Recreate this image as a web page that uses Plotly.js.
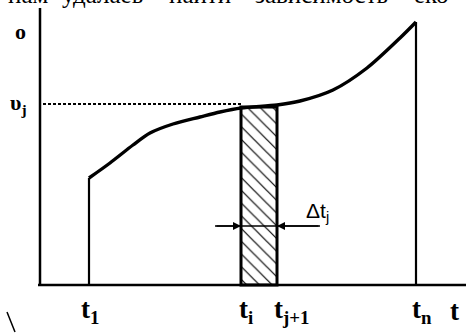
<!DOCTYPE html>
<html>
<head>
<meta charset="utf-8">
<script src="https://cdn.plot.ly/plotly-3.0.1.min.js"></script>
<style>html,body{margin:0;padding:0;background:#fff;}#chart{width:466px;height:333px;}</style>
</head>
<body>
<div id="chart"></div>
<script>
// Curve v(t) (arbitrary units)
const curveT = [4.9, 7.0, 9.3, 11.0, 13.3, 16.0, 18.0, 20.1, 23.7, 26.0, 29.3, 32.7, 36.0, 37.6];
const curveV = [10.7, 12.2, 14.0, 15.2, 16.1, 16.8, 17.3, 17.7, 18.0, 18.4, 19.5, 21.7, 24.7, 26.3];

// Key time marks
const tMarks = [4.9, 20.1, 23.7, 37.6];           // t1, ti, tj+1, tn
const tLabels = ["t<sub>1</sub>", "t<sub>i</sub>", "t<sub>j+1</sub>", "t<sub>n</sub>", "t"];
const tLabelPos = [5.0, 20.6, 25.2, 38.2, 41.4];
const vj = 18.1;
const stripTop = 17.8;
const vAxisTop = 27.7;
const tAxisEnd = 42.6;
const arrowV = 5.9;
const arrowFrom = [17.5, 28.0];
// cut-off line of text above the figure, word by word
const headWords = ["нам", "удалаеь", "наити", "зависимость", "еко"];
const headWordPos = [0.06, 0.22, 0.43, 0.69, 0.925];

const black = "#000";
const traces = [];

// hatched strip Δt_j
traces.push({
  type: "bar",
  x: [(tMarks[1] + tMarks[2]) / 2],
  y: [stripTop],
  width: [tMarks[2] - tMarks[1]],
  marker: {
    color: "#fff",
    line: {color: black, width: 3},
    pattern: {shape: "\\", fgcolor: black, bgcolor: "#fff", size: 9, solidity: 0.13}
  },
  hoverinfo: "skip"
});

// axes
traces.push({type: "scatter", mode: "lines", x: [0, 0], y: [0, vAxisTop],
  line: {color: black, width: 2.5}, hoverinfo: "skip"});
traces.push({type: "scatter", mode: "lines", x: [-0.2, tAxisEnd], y: [0, 0],
  line: {color: black, width: 2.5}, hoverinfo: "skip"});

// verticals at t1 and tn
traces.push({type: "scatter", mode: "lines", x: [tMarks[0], tMarks[0]], y: [0, curveV[0]],
  line: {color: black, width: 2.2}, hoverinfo: "skip"});
traces.push({type: "scatter", mode: "lines", x: [tMarks[3], tMarks[3]], y: [0, curveV[curveV.length - 1]],
  line: {color: black, width: 2.2}, hoverinfo: "skip"});

// dashed level vj
traces.push({type: "scatter", mode: "lines", x: [0.3, tMarks[1]], y: [vj, vj],
  line: {color: black, width: 1.8, dash: "3px,2px"}, hoverinfo: "skip"});

// curve
traces.push({type: "scatter", mode: "lines", x: curveT, y: curveV,
  line: {color: black, width: 3.4, shape: "spline", smoothing: 0.8}, hoverinfo: "skip"});

// arrow shaft
traces.push({type: "scatter", mode: "lines", x: arrowFrom, y: [arrowV, arrowV],
  line: {color: black, width: 1.6}, hoverinfo: "skip"});

// stray scan mark
traces.push({type: "scatter", mode: "lines", x: [-3.3, -2.5], y: [-2.7, -4.7],
  line: {color: black, width: 1.5}, hoverinfo: "skip"});

const serifBold = {family: "Liberation Serif, serif", size: 27, color: black};
const annotations = [];
tLabels.forEach((lab, i) => {
  annotations.push({x: tLabelPos[i], y: -2.6, xref: "x", yref: "y", text: "<b>" + lab + "</b>",
    showarrow: false, font: serifBold, xanchor: "center", yanchor: "middle"});
});
annotations.push({x: -2.0, y: 25.4, xref: "x", yref: "y", text: "<b>o</b>", showarrow: false,
  font: {family: "Liberation Serif, serif", size: 22, color: black}, xanchor: "center", yanchor: "middle"});
annotations.push({x: -2.2, y: 18.1, xref: "x", yref: "y", text: "<b>υ<sub>j</sub></b>", showarrow: false,
  font: {family: "Liberation Serif, serif", size: 22, color: black}, xanchor: "center", yanchor: "middle"});
annotations.push({x: 27.7, y: 7.3, xref: "x", yref: "y", text: "Δt<sub>j</sub>", showarrow: false,
  font: {family: "Liberation Sans, sans-serif", size: 21, color: black}, xanchor: "center", yanchor: "middle"});
// arrowheads
annotations.push({x: tMarks[1], y: arrowV, ax: arrowFrom[0], ay: arrowV, xref: "x", yref: "y",
  axref: "x", ayref: "y", text: "", showarrow: true, arrowhead: 2, arrowsize: 1, arrowwidth: 1.6, arrowcolor: black});
annotations.push({x: tMarks[2], y: arrowV, ax: arrowFrom[1], ay: arrowV, xref: "x", yref: "y",
  axref: "x", ayref: "y", text: "", showarrow: true, arrowhead: 2, arrowsize: 1, arrowwidth: 1.6, arrowcolor: black});
// cut-off headline
headWords.forEach((w, i) => {
  annotations.push({x: headWordPos[i], y: 1, xref: "paper", yref: "paper", text: w, showarrow: false,
    font: {family: "Liberation Serif, serif", size: 25, color: black}, xanchor: "center", yanchor: "middle", yshift: 6});
});

const layout = {
  width: 466, height: 333,
  margin: {l: 0, r: 0, t: 0, b: 0},
  paper_bgcolor: "#fff", plot_bgcolor: "#fff",
  showlegend: false,
  xaxis: {range: [-4.0, 42.6], visible: false, fixedrange: true},
  yaxis: {range: [-4.8, 28.5], visible: false, fixedrange: true},
  annotations: annotations,
  bargap: 0
};

Plotly.newPlot("chart", traces, layout, {staticPlot: true, displayModeBar: false});
</script>
</body>
</html>
